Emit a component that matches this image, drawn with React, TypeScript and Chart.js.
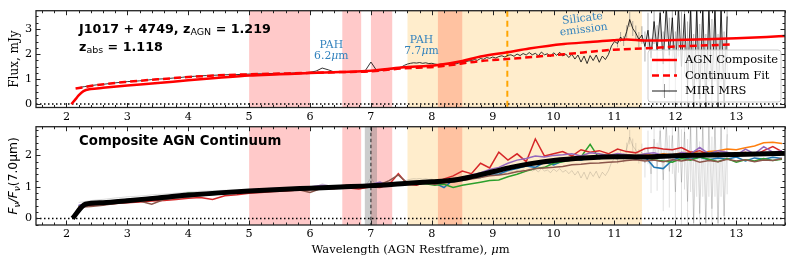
import { useEffect, useRef } from "react";
import { Chart, registerables } from "chart.js";
Chart.register(...registerables);

// ---------------- data ----------------
const xMajorTicks = [2, 3, 4, 5, 6, 7, 8, 9, 10, 11, 12, 13];
const topYTicks = [0, 1, 2, 3];
const bottomYTicks = [0, 1, 2];

// MIRI MRS spectrum (mJy)
const miriWaveA = [2.2, 2.3, 2.4, 2.5, 2.6, 2.7, 2.8, 2.9, 3.0, 3.1, 3.2, 3.3, 3.4, 3.5, 3.6, 3.7, 3.8, 3.9, 4.0, 4.1, 4.2, 4.3, 4.4, 4.5, 4.6, 4.7, 4.8, 4.9, 5.0, 5.1, 5.2, 5.3, 5.4, 5.5, 5.6, 5.7, 5.8, 5.9, 6.0, 6.1, 6.2, 6.3, 6.4, 6.5, 6.6, 6.7, 6.8, 6.9, 7.0, 7.1, 7.2, 7.3, 7.4, 7.5];
const miriFluxA = [0.66, 0.7, 0.74, 0.77, 0.79, 0.82, 0.85, 0.87, 0.9, 0.91, 0.93, 0.95, 0.98, 1.0, 1.01, 1.03, 1.05, 1.07, 1.1, 1.11, 1.13, 1.14, 1.15, 1.16, 1.17, 1.18, 1.18, 1.19, 1.2, 1.21, 1.21, 1.22, 1.22, 1.23, 1.23, 1.24, 1.25, 1.25, 1.27, 1.32, 1.44, 1.37, 1.28, 1.28, 1.29, 1.29, 1.3, 1.31, 1.68, 1.32, 1.35, 1.38, 1.42, 1.48];
const miriWaveB = [7.55, 7.6, 7.65, 7.7, 7.75, 7.8, 7.85, 7.9, 7.95, 8.0, 8.05, 8.1, 8.15, 8.2, 8.25, 8.3, 8.35, 8.4, 8.45, 8.5, 8.55, 8.6, 8.65, 8.7, 8.75, 8.8, 8.85, 8.9, 8.95, 9.0, 9.05, 9.1, 9.15, 9.2, 9.25, 9.3, 9.35, 9.4, 9.45, 9.5, 9.55, 9.6, 9.65, 9.7, 9.75, 9.8, 9.85, 9.9, 9.95, 10.0, 10.05, 10.1, 10.15, 10.2, 10.25, 10.3, 10.35, 10.4, 10.45, 10.5, 10.55, 10.6, 10.65, 10.7, 10.75, 10.8, 10.85, 10.9, 10.95, 11.0];
const miriFluxB = [1.55, 1.6, 1.63, 1.65, 1.64, 1.66, 1.63, 1.65, 1.62, 1.63, 1.6, 1.58, 1.6, 1.59, 1.61, 1.6, 1.63, 1.61, 1.65, 1.66, 1.7, 1.72, 1.74, 1.78, 1.75, 1.82, 1.79, 1.86, 1.83, 1.88, 1.84, 1.9, 1.93, 1.88, 1.95, 1.97, 1.91, 2.0, 1.94, 2.02, 1.96, 2.06, 1.97, 2.03, 1.93, 2.08, 1.97, 2.01, 1.9, 2.05, 1.95, 2.07, 1.92, 2.0, 1.86, 1.99, 1.8, 1.96, 1.68, 1.92, 1.62, 1.94, 1.74, 1.96, 1.67, 1.92, 1.78, 1.98, 2.32, 2.5];
const miriWaveC = [11.05, 11.1, 11.15, 11.2, 11.25, 11.3, 11.35, 11.4, 11.45, 11.5, 11.55, 11.6, 11.65, 11.7, 11.75, 11.8, 11.85, 11.9, 11.95, 12.0, 12.05, 12.1, 12.15, 12.2, 12.25, 12.3, 12.35, 12.4, 12.45, 12.5, 12.55, 12.6, 12.65, 12.7, 12.75, 12.8, 12.85];
const miriFluxC = [2.42, 2.68, 2.52, 2.9, 3.38, 3.02, 2.84, 2.58, 2.76, 2.3, 2.95, 1.85, 3.3, 2.15, 3.65, 1.6, 3.9, 1.95, 3.45, 1.1, 3.9, 1.5, 3.6, 0.7, 3.9, -0.2, 3.9, 0.2, 3.9, -0.2, 3.9, 0.4, 3.9, -0.2, 3.9, 0.1, 3.5];
const miriErrC = [0.15, 0.2, 0.2, 0.25, 0.3, 0.3, 0.3, 0.3, 0.35, 0.6, 0.7, 0.8, 0.9, 1.0, 1.1, 1.3, 1.4, 1.5, 1.6, 1.8, 2.0, 2.2, 2.4, 2.6, 2.8, 3.0, 3.0, 3.0, 3.0, 3.0, 3.0, 3.0, 3.0, 3.0, 3.0, 2.8, 2.5];
const miriNorm7um = 1.31;

// AGN composite scaled to the object (mJy) and continuum fit
const agnWave = [2.08, 2.15, 2.2, 2.28, 2.4, 2.6, 3.0, 3.5, 4.0, 4.5, 5.0, 5.5, 6.0, 6.5, 7.0, 7.5, 8.1, 8.5, 8.8, 9.24, 9.6, 10.17, 10.6, 10.98, 11.2, 11.5, 12.0, 12.5, 13.0, 13.5, 13.8];
const agnFlux = [0, 0.2, 0.35, 0.52, 0.6, 0.65, 0.74, 0.84, 0.95, 1.05, 1.14, 1.19, 1.24, 1.28, 1.33, 1.46, 1.56, 1.72, 1.9, 2.07, 2.22, 2.4, 2.48, 2.55, 2.58, 2.54, 2.56, 2.59, 2.63, 2.68, 2.72];
const contWave = [2.15, 2.5, 3.0, 3.5, 4.0, 4.5, 5.0, 5.5, 6.0, 6.5, 7.0, 7.5, 8.1, 8.8, 9.24, 10.17, 10.98, 11.53, 12.0, 12.9];
const contFlux = [0.62, 0.76, 0.89, 0.99, 1.08, 1.15, 1.19, 1.22, 1.25, 1.28, 1.31, 1.42, 1.5, 1.72, 1.8, 1.99, 2.17, 2.23, 2.3, 2.38];

// Composite AGN continuum (normalised at 7.0 um)
const compWave = [2.1, 2.31, 2.6, 3.0, 3.5, 4.0, 4.5, 5.0, 5.5, 6.0, 6.5, 7.0, 7.5, 8.0, 8.3, 8.6, 9.0, 9.3, 9.6, 10.0, 10.5, 11.0, 11.5, 12.0, 12.5, 13.0, 13.5, 13.8];
const compNorm = [0, 0.45, 0.5, 0.56, 0.65, 0.74, 0.81, 0.87, 0.92, 0.96, 1.0, 1.04, 1.1, 1.16, 1.2, 1.3, 1.48, 1.62, 1.73, 1.84, 1.92, 1.96, 1.95, 1.99, 2.01, 2.03, 2.05, 2.06];

// individual normalised spectra
const objWave = [2.2, 2.4, 2.6, 2.8, 3.0, 3.2, 3.4, 3.6, 3.8, 4.0, 4.2, 4.4, 4.6, 4.8, 5.0, 5.2, 5.4, 5.6, 5.8, 6.0, 6.2, 6.4, 6.6, 6.8, 7.0,
  7.15, 7.3, 7.45, 7.6, 7.75, 7.9, 8.05, 8.2, 8.35, 8.5, 8.65, 8.8, 8.95, 9.1, 9.25, 9.4, 9.55, 9.7, 9.85, 10.0, 10.15, 10.3, 10.45, 10.6, 10.75, 10.9, 11.05, 11.2, 11.35, 11.5, 11.65, 11.8, 11.95, 12.1, 12.25, 12.4, 12.55, 12.7, 12.85, 13.0, 13.15, 13.3, 13.45, 13.6, 13.75];
const objBlue = [0.4, 0.46, 0.5, 0.54, 0.57, 0.6, 0.64, 0.66, 0.71, 0.73, 0.77, 0.81, 0.82, 0.86, 0.87, 0.9, 0.9, 0.94, 0.95, 0.97, 0.98, 1.0, 1.0, 1.03, 1.05,
  1.0, 1.09, 1.06, 1.12, 1.1, 1.17, 1.12, 0.98, 1.22, 1.2, 1.28, 1.3, 1.42, 1.4, 1.52, 1.58, 1.66, 1.62, 1.78, 1.7, 1.82, 1.92, 1.85, 1.95, 1.9, 2.0, 1.92, 1.98, 1.88, 1.96, 1.62, 1.58, 1.85, 1.95, 1.88, 1.94, 1.86, 1.92, 1.88, 1.95, 1.82, 1.92, 1.88, 1.94, 1.9];
const objOrange = [0.37, 0.44, 0.48, 0.52, 0.55, 0.6, 0.62, 0.65, 0.69, 0.73, 0.76, 0.79, 0.82, 0.84, 0.86, 0.88, 0.9, 0.92, 0.94, 0.95, 0.97, 0.99, 1.0, 1.01, 1.06,
  1.04, 1.08, 1.05, 1.1, 1.15, 1.12, 1.2, 1.15, 1.18, 1.24, 1.28, 1.36, 1.5, 1.55, 1.62, 1.68, 1.74, 1.78, 1.82, 1.86, 1.9, 1.93, 1.92, 1.96, 1.98, 2.0, 1.97, 2.02, 1.98, 2.04, 2.0, 2.05, 2.02, 2.08, 2.1, 2.06, 2.12, 2.15, 2.2, 2.18, 2.24, 2.3, 2.4, 2.42, 2.38];
const objGreen = [0.38, 0.47, 0.52, 0.55, 0.6, 0.62, 0.66, 0.7, 0.72, 0.8, 0.78, 0.81, 0.83, 0.87, 0.9, 0.88, 0.92, 0.94, 0.93, 0.97, 0.99, 1.01, 1.0, 1.04, 1.02,
  1.06, 1.02, 1.1, 1.08, 1.12, 1.1, 1.05, 1.08, 0.98, 1.05, 1.1, 1.15, 1.2, 1.22, 1.32, 1.4, 1.5, 1.58, 1.62, 1.75, 1.8, 1.85, 1.95, 2.35, 1.9, 1.92, 2.02, 1.95, 1.9, 1.96, 1.85, 1.82, 1.78, 1.9, 1.85, 1.95, 1.88, 1.8, 1.9, 1.78, 1.86, 1.82, 1.9, 1.84, 1.88];
const objRed = [0.36, 0.42, 0.44, 0.47, 0.5, 0.52, 0.55, 0.57, 0.6, 0.64, 0.66, 0.6, 0.72, 0.75, 0.8, 0.82, 0.85, 0.87, 0.9, 0.92, 0.93, 0.95, 0.97, 0.93, 1.0,
  0.98, 1.08, 1.42, 1.08, 1.05, 1.15, 1.12, 1.25, 1.35, 1.5, 1.42, 1.75, 1.6, 2.1, 1.85, 2.05, 1.8, 2.52, 1.98, 2.05, 2.12, 1.98, 2.18, 2.1, 2.15, 2.05, 2.2, 2.12, 2.08, 2.22, 2.25, 2.2, 2.18, 2.25, 2.1, 2.15, 2.02, 2.08, 1.98, 2.05, 2.1, 2.0, 2.15, 2.28, 2.12];
const objPurple = [0.42, 0.48, 0.52, 0.56, 0.6, 0.63, 0.67, 0.7, 0.74, 0.77, 0.8, 0.83, 0.86, 0.88, 0.9, 0.93, 0.95, 0.96, 0.98, 1.0, 1.05, 1.02, 1.04, 1.05, 1.08,
  1.15, 1.02, 1.1, 1.12, 1.16, 1.12, 1.18, 1.2, 1.25, 1.3, 1.38, 1.45, 1.55, 1.62, 1.75, 1.85, 1.9, 1.98, 1.95, 2.0, 2.02, 2.05, 1.98, 2.08, 2.05, 2.0, 2.06, 2.02, 1.98, 2.05, 2.08, 2.0, 1.95, 2.1, 2.05, 2.25, 2.05, 2.15, 2.1, 2.0, 2.2, 2.05, 2.28, 2.1, 2.15];
const objBrown = [0.35, 0.38, 0.42, 0.47, 0.52, 0.55, 0.45, 0.6, 0.65, 0.68, 0.72, 0.76, 0.78, 0.82, 0.84, 0.86, 0.89, 0.9, 0.92, 0.82, 0.96, 0.95, 1.05, 1.0, 1.08,
  1.08, 1.2, 1.38, 1.12, 1.15, 1.12, 1.08, 1.15, 1.18, 1.2, 1.25, 1.3, 1.35, 1.38, 1.42, 1.48, 1.52, 1.58, 1.6, 1.62, 1.65, 1.7, 1.72, 1.75, 1.76, 1.78, 1.8, 1.84, 1.86, 1.82, 1.85, 1.8, 1.86, 1.82, 1.88, 1.78, 1.84, 1.8, 1.88, 1.82, 1.86, 1.8, 1.85, 1.84, 1.9];

// masked / highlighted wavelength ranges
const pinkRanges = [[5.0, 6.0], [6.53, 6.84], [7.0, 7.35], [8.1, 8.5]];
const orangeRanges = [[7.6, 11.45]];
const grayRanges = [[6.9, 7.1]];
const silicateLine = 9.24;
const normLine = 7.0;

// ---------------- helpers ----------------
const SERIF = "'DejaVu Serif'";
const SANS = "'DejaVu Sans'";
const TEXT_BLUE = "#3282bd";
const TICK_SIZE = 11.2;

const pts = (xs: number[], ys: number[]) => xs.map((x, i) => ({ x, y: ys[i] }));
const miriWave = [...miriWaveA, ...miriWaveB, ...miriWaveC];
const miriFlux = [...miriFluxA, ...miriFluxB, ...miriFluxC];
const miriNormFlux = miriFlux.map((v) => v / miriNorm7um);
const miriNormErrC = miriErrC.map((v) => v / miriNorm7um);
const miriNormFluxC = miriFluxC.map((v) => v / miriNorm7um);

type Run = { t: string; f: string; dy?: number };

function drawRuns(ctx: CanvasRenderingContext2D, runs: Run[], x: number, y: number, align: string, color: string, rot = 0) {
  ctx.save();
  let total = 0;
  const widths = runs.map((r) => {
    ctx.font = r.f;
    const w = ctx.measureText(r.t).width;
    total += w;
    return w;
  });
  ctx.translate(x, y);
  if (rot) ctx.rotate(rot);
  ctx.fillStyle = color;
  ctx.textAlign = "left";
  ctx.textBaseline = "alphabetic";
  let cx = align === "center" ? -total / 2 : 0;
  runs.forEach((r, i) => {
    ctx.font = r.f;
    ctx.fillText(r.t, cx, r.dy || 0);
    cx += widths[i];
  });
  ctx.restore();
}

interface TextItem { runs: Run[]; at: (c: any) => number[]; align: string; color: string; rot?: number }
interface PanelCfg {
  yMinorStep: number;
  bands: { from: number; to: number; color: string }[];
  vlines: { x: number; color: string; width: number; dash: number[] }[];
  errs: { xs: number[]; ys: number[]; es: number[]; color: string }[];
  texts: TextItem[];
  legend: boolean;
}

function drawLegend(ctx: CanvasRenderingContext2D, a: any) {
  const r = a.right - 4, b = a.bottom - 5.5;
  const w = 133, h = 52;
  const l = r - w, t = b - h;
  ctx.save();
  ctx.beginPath();
  ctx.roundRect(l, t, w, h, 3);
  ctx.fillStyle = "rgba(255,255,255,0.8)";
  ctx.fill();
  ctx.strokeStyle = "#cccccc";
  ctx.lineWidth = 1;
  ctx.stroke();
  const items = [
    { label: "AGN Composite", kind: "solid" },
    { label: "Continuum Fit", kind: "dash" },
    { label: "MIRI MRS", kind: "miri" },
  ];
  items.forEach((it, i) => {
    const cy = t + 10 + i * 15.5;
    ctx.save();
    if (it.kind === "miri") {
      ctx.strokeStyle = "rgba(110,110,110,0.7)";
      ctx.lineWidth = 1;
      ctx.beginPath();
      ctx.moveTo(l + 16.5, cy - 7);
      ctx.lineTo(l + 16.5, cy + 7);
      ctx.stroke();
      ctx.strokeStyle = "#000";
      ctx.lineWidth = 0.9;
    } else {
      ctx.strokeStyle = "#ff0000";
      ctx.lineWidth = 2.5;
      if (it.kind === "dash") ctx.setLineDash([7, 4]);
    }
    ctx.beginPath();
    ctx.moveTo(l + 4, cy);
    ctx.lineTo(l + 29, cy);
    ctx.stroke();
    ctx.restore();
    ctx.fillStyle = "#000";
    ctx.font = `11.5px ${SERIF}`;
    ctx.textBaseline = "middle";
    ctx.fillText(it.label, l + 37, cy + 0.5);
  });
  ctx.restore();
}

function makePanelPlugin(cfg: PanelCfg) {
  return {
    id: "panelDecor",
    beforeDatasetsDraw(chart: any) {
      const { ctx, chartArea: a, scales } = chart;
      const x = scales.x, y = scales.y;
      ctx.save();
      ctx.beginPath();
      ctx.rect(a.left, a.top, a.right - a.left, a.bottom - a.top);
      ctx.clip();
      for (const b of cfg.bands) {
        const x0 = x.getPixelForValue(b.from), x1 = x.getPixelForValue(b.to);
        ctx.fillStyle = b.color;
        ctx.fillRect(x0, a.top, x1 - x0, a.bottom - a.top);
      }
      ctx.save();
      ctx.setLineDash([1.5, 2.5]);
      ctx.lineWidth = 1.5;
      ctx.strokeStyle = "#000";
      const y0 = y.getPixelForValue(0);
      ctx.beginPath();
      ctx.moveTo(a.left, y0);
      ctx.lineTo(a.right, y0);
      ctx.stroke();
      ctx.restore();
      for (const v of cfg.vlines) {
        ctx.save();
        ctx.setLineDash(v.dash);
        ctx.lineWidth = v.width;
        ctx.strokeStyle = v.color;
        const px = x.getPixelForValue(v.x);
        ctx.beginPath();
        ctx.moveTo(px, a.top);
        ctx.lineTo(px, a.bottom);
        ctx.stroke();
        ctx.restore();
      }
      for (const e of cfg.errs) {
        ctx.strokeStyle = e.color;
        ctx.lineWidth = 1;
        ctx.beginPath();
        e.xs.forEach((xv, i) => {
          const px = x.getPixelForValue(xv);
          ctx.moveTo(px, y.getPixelForValue(e.ys[i] - e.es[i]));
          ctx.lineTo(px, y.getPixelForValue(e.ys[i] + e.es[i]));
        });
        ctx.stroke();
      }
      ctx.restore();
    },
    afterDraw(chart: any) {
      const { ctx, chartArea: a, scales } = chart;
      const x = scales.x, y = scales.y;
      ctx.save();
      ctx.strokeStyle = "#222";
      ctx.lineWidth = 1;
      ctx.beginPath();
      for (let i = Math.ceil(x.min / 0.2); i <= Math.floor(x.max / 0.2 + 1e-6); i++) {
        const v = i * 0.2;
        const major = Math.abs(v - Math.round(v)) < 1e-6;
        const len = major ? 4.5 : 2.5;
        const px = Math.round(x.getPixelForValue(v)) + 0.5;
        ctx.moveTo(px, a.bottom);
        ctx.lineTo(px, a.bottom - len);
        ctx.moveTo(px, a.top);
        ctx.lineTo(px, a.top + len);
      }
      const st = cfg.yMinorStep;
      for (let i = Math.ceil(y.min / st - 1e-6); i <= Math.floor(y.max / st + 1e-6); i++) {
        const v = i * st;
        const major = Math.abs(v - Math.round(v)) < 1e-6;
        const len = major ? 4.5 : 2.5;
        const py = Math.round(y.getPixelForValue(v)) + 0.5;
        ctx.moveTo(a.left, py);
        ctx.lineTo(a.left + len, py);
        ctx.moveTo(a.right, py);
        ctx.lineTo(a.right - len, py);
      }
      ctx.stroke();
      ctx.lineWidth = 1.3;
      ctx.strokeStyle = "#222";
      ctx.strokeRect(a.left, a.top, a.right - a.left, a.bottom - a.top);
      for (const t of cfg.texts) {
        const [px, py] = t.at(chart);
        drawRuns(ctx, t.runs, px, py, t.align, t.color, t.rot || 0);
      }
      if (cfg.legend) drawLegend(ctx, a);
      ctx.restore();
    },
  };
}

function xScale(height: number) {
  return {
    type: "linear",
    min: 1.5,
    max: 13.8,
    grid: { display: false, drawTicks: false },
    border: { display: false },
    ticks: { font: { family: "DejaVu Serif", size: TICK_SIZE }, color: "#000", padding: 2.5, maxRotation: 0, autoSkip: false },
    afterBuildTicks: (s: any) => {
      s.ticks = xMajorTicks.map((v) => ({ value: v }));
    },
    afterFit: (s: any) => {
      s.height = height;
    },
  };
}

function yScale(min: number, max: number, ticks: number[]) {
  return {
    type: "linear",
    min,
    max,
    grid: { display: false, drawTicks: false },
    border: { display: false },
    ticks: { font: { family: "DejaVu Serif", size: TICK_SIZE }, color: "#000", padding: 4 },
    afterBuildTicks: (s: any) => {
      s.ticks = ticks.map((v) => ({ value: v }));
    },
    afterFit: (s: any) => {
      s.width = 36;
    },
  };
}

const dX = (c: any, v: number) => c.scales.x.getPixelForValue(v);
const dY = (c: any, v: number) => c.scales.y.getPixelForValue(v);

function bandList(withGray: boolean) {
  const list: { from: number; to: number; color: string }[] = [];
  pinkRanges.forEach(([f, t]) => list.push({ from: f, to: t, color: "rgba(255,0,0,0.21)" }));
  orangeRanges.forEach(([f, t]) => list.push({ from: f, to: t, color: "rgba(255,165,0,0.2)" }));
  if (withGray) grayRanges.forEach(([f, t]) => list.push({ from: f, to: t, color: "rgba(128,128,128,0.4)" }));
  return list;
}

function makeTopConfig(): any {
  const bold = `bold 12.7px ${SANS}`;
  const sub = `9.5px ${SANS}`;
  const blue = `10.8px ${SERIF}`;
  const blueIt = `italic 10.8px ${SERIF}`;
  const cfg: PanelCfg = {
    yMinorStep: 0.25,
    bands: bandList(false),
    vlines: [{ x: silicateLine, color: "#ffa500", width: 2, dash: [6, 4] }],
    errs: [{ xs: miriWaveC, ys: miriFluxC, es: miriErrC, color: "rgba(110,110,110,0.55)" }],
    texts: [
      { runs: [{ t: "J1017 + 4749, z", f: bold }, { t: "AGN", f: sub, dy: 2.5 }, { t: " = 1.219", f: bold }], at: (c) => [c.chartArea.left + 43, c.chartArea.top + 22], align: "left", color: "#000" },
      { runs: [{ t: "z", f: bold }, { t: "abs", f: sub, dy: 2.5 }, { t: " = 1.118", f: bold }], at: (c) => [c.chartArea.left + 43, c.chartArea.top + 40], align: "left", color: "#000" },
      { runs: [{ t: "PAH", f: blue }], at: (c) => [dX(c, 6.35), dY(c, 2.23)], align: "center", color: TEXT_BLUE },
      { runs: [{ t: "6.2", f: blue }, { t: "μ", f: blueIt }, { t: "m", f: blue }], at: (c) => [dX(c, 6.35), dY(c, 1.79)], align: "center", color: TEXT_BLUE },
      { runs: [{ t: "PAH", f: blue }], at: (c) => [dX(c, 7.83), dY(c, 2.46)], align: "center", color: TEXT_BLUE },
      { runs: [{ t: "7.7", f: blue }, { t: "μ", f: blueIt }, { t: "m", f: blue }], at: (c) => [dX(c, 7.83), dY(c, 2.02)], align: "center", color: TEXT_BLUE },
      { runs: [{ t: "Silicate", f: blue, dy: -5.5 }], at: (c) => [dX(c, 10.49), dY(c, 3.08)], align: "center", color: TEXT_BLUE, rot: (-7 * Math.PI) / 180 },
      { runs: [{ t: "emission", f: blue, dy: 5.7 }], at: (c) => [dX(c, 10.49), dY(c, 3.08)], align: "center", color: TEXT_BLUE, rot: (-7 * Math.PI) / 180 },
      { runs: [{ t: "Flux, mJy", f: `12px ${SERIF}` }], at: (c) => [17.5, (c.chartArea.top + c.chartArea.bottom) / 2], align: "center", color: "#000", rot: -Math.PI / 2 },
    ],
    legend: true,
  };
  return {
    type: "line",
    data: {
      datasets: [
        { label: "AGN Composite", data: pts(agnWave, agnFlux), borderColor: "#ff0000", borderWidth: 2.5, pointRadius: 0, cubicInterpolationMode: "monotone", clip: 0 },
        { label: "Continuum Fit", data: pts(contWave, contFlux), borderColor: "#ff0000", borderWidth: 2.5, borderDash: [7, 4], pointRadius: 0, cubicInterpolationMode: "monotone", clip: 0 },
        { label: "MIRI MRS", data: pts(miriWave, miriFlux), borderColor: "#000", borderWidth: 0.8, pointRadius: 0, clip: 0 },
      ],
    },
    options: {
      animation: false,
      responsive: false,
      devicePixelRatio: 1,
      events: [],
      layout: { padding: { top: 7, right: 8, left: 0, bottom: 0 } },
      plugins: { legend: { display: false }, tooltip: { enabled: false } },
      scales: { x: xScale(18.5), y: yScale(-0.135, 3.73, topYTicks) },
    },
    plugins: [makePanelPlugin(cfg)],
  };
}

function makeBottomConfig(): any {
  const ser = `11.5px ${SERIF}`;
  const cfg: PanelCfg = {
    yMinorStep: 0.2,
    bands: bandList(true),
    vlines: [{ x: normLine, color: "#222", width: 1, dash: [3.5, 2.5] }],
    errs: [{ xs: miriWaveC, ys: miriNormFluxC, es: miriNormErrC, color: "rgba(0,0,0,0.13)" }],
    texts: [
      { runs: [{ t: "Composite AGN Continuum", f: `bold 13.3px ${SANS}` }], at: (c) => [c.chartArea.left + 43, c.chartArea.top + 18.5], align: "left", color: "#000" },
      {
        runs: [
          { t: "F", f: `italic 12.3px ${SANS}` },
          { t: "ν", f: `italic 9px ${SANS}`, dy: 2.8 },
          { t: "/F", f: `italic 12.3px ${SANS}` },
          { t: "ν", f: `italic 9px ${SANS}`, dy: 2.8 },
          { t: "(7.0μm)", f: `12.3px ${SANS}` },
        ],
        at: (c) => [17, (c.chartArea.top + c.chartArea.bottom) / 2],
        align: "center",
        color: "#000",
        rot: -Math.PI / 2,
      },
      {
        runs: [{ t: "Wavelength (AGN Restframe), ", f: ser }, { t: "μ", f: `italic 11.5px ${SERIF}` }, { t: "m", f: ser }],
        at: (c) => [(c.chartArea.left + c.chartArea.right) / 2, c.chartArea.bottom + 28],
        align: "center",
        color: "#000",
      },
    ],
    legend: false,
  };
  const thin = (data: number[], color: string) => ({ data: pts(objWave, data), borderColor: color, borderWidth: 1.5, pointRadius: 0, clip: 0 });
  return {
    type: "line",
    data: {
      datasets: [
        { label: "Composite", data: pts(compWave, compNorm), borderColor: "#000", borderWidth: 5, pointRadius: 0, cubicInterpolationMode: "monotone", clip: 0 },
        thin(objBrown, "#8c564b"),
        thin(objPurple, "#9467bd"),
        thin(objRed, "#d62728"),
        thin(objGreen, "#2ca02c"),
        thin(objOrange, "#ff7f0e"),
        thin(objBlue, "#1f77b4"),
        { label: "MIRI norm", data: pts(miriWave, miriNormFlux), borderColor: "rgba(0,0,0,0.18)", borderWidth: 0.8, pointRadius: 0, clip: 0 },
      ],
    },
    options: {
      animation: false,
      responsive: false,
      devicePixelRatio: 1,
      events: [],
      layout: { padding: { top: 8.3, right: 8, left: 0, bottom: 0 } },
      plugins: { legend: { display: false }, tooltip: { enabled: false } },
      scales: { x: xScale(40), y: yScale(-0.21, 2.91, bottomYTicks) },
    },
    plugins: [makePanelPlugin(cfg)],
  };
}

function PanelCanvas({ top, height, make }: { top: number; height: number; make: () => any }) {
  const ref = useRef<HTMLCanvasElement | null>(null);
  useEffect(() => {
    const chart = new Chart(ref.current as HTMLCanvasElement, make());
    return () => chart.destroy();
  }, []);
  return <canvas ref={ref} width={793} height={height} style={{ position: "absolute", left: 0, top, width: 793, height }} />;
}

export default function App() {
  return (
    <div style={{ position: "fixed", left: 0, top: 0, width: 793, height: 265, background: "#fff", overflow: "hidden" }}>
      <PanelCanvas top={0} height={126} make={makeTopConfig} />
      <PanelCanvas top={116} height={149} make={makeBottomConfig} />
    </div>
  );
}
